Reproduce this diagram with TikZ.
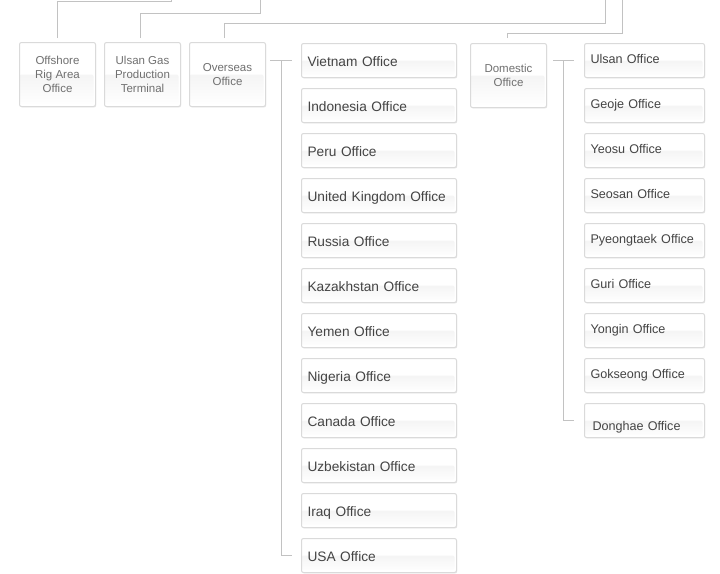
\documentclass[tikz,border=0pt]{standalone}
\usepackage{fontspec}
\setmainfont{Liberation Sans}
\usetikzlibrary{positioning,shadows}
\definecolor{linegray}{HTML}{C2C2C2}
\definecolor{boxline}{HTML}{DADADA}
\definecolor{bandgray}{HTML}{EAEAEA}
\definecolor{textgray}{HTML}{444444}
\definecolor{deptgray}{HTML}{707070}

\begin{document}
\begin{tikzpicture}[
    x=1pt, y=-1pt,
    box/.style={draw=boxline, fill=white, rounded corners=2pt, line width=1pt,
        drop shadow={shadow xshift=0.7pt, shadow yshift=-0.9pt, opacity=0.2},
        path picture={\shade[top color=bandgray, bottom color=white]
            (path picture bounding box.west) rectangle
            ([xshift=-2pt,yshift=3pt]path picture bounding box.south east);}},
    dept/.style={box, anchor=north west, minimum width=76pt, minimum height=64pt,
        align=center, inner sep=0pt, text=deptgray,
        font=\fontsize{11.5}{13.7}\selectfont},
    abroad/.style={box, anchor=north west, minimum width=155pt, minimum height=34pt,
        text width=143pt, inner xsep=6pt, align=left, text=textgray,
        text height=14pt, text depth=2pt, font=\fontsize{13.7}{15}\selectfont},
    home/.style={box, anchor=north west, minimum width=120pt, minimum height=34pt,
        text width=108pt, inner xsep=6pt, align=left, text=textgray,
        text height=8pt, text depth=3pt, font=\fontsize{12.6}{14}\selectfont},
    link/.style={draw=linegray, line width=1pt}]

\useasboundingbox (0,0) rectangle (720,573);

% departments
\node[dept] (offshore) at (19,42) {Offshore\\Rig Area\\Office};
\node[dept, right=8pt of offshore] (ulsangas) {Ulsan Gas\\Production\\Terminal};
\node[dept, right=8pt of ulsangas] (overseas) {Overseas\\Office};
\node[dept] (domestic) at (470,43) {Domestic\\Office};

% overseas offices
\foreach \name/\place [count=\i from 0] in {vietnam/Vietnam, indonesia/Indonesia,
    peru/Peru, uk/United Kingdom, russia/Russia, kazakhstan/Kazakhstan,
    yemen/Yemen, nigeria/Nigeria, canada/Canada, uzbekistan/Uzbekistan,
    iraq/Iraq, usa/USA}
    \node[abroad] (\name) at (301,43+45*\i) {\place\ Office};

% domestic offices
\foreach \name/\place [count=\i from 0] in {ulsan/Ulsan, geoje/Geoje,
    yeosu/Yeosu, seosan/Seosan, pyeongtaek/Pyeongtaek, guri/Guri,
    yongin/Yongin, gokseong/Gokseong}
    \node[home] (\name) at (584,43+45*\i) {\place\ Office};
\node[home, text height=21pt, text depth=2pt, inner xsep=8pt, text width=104pt]
    (donghae) at (584,403) {Donghae Office};

% feeds from above
\coordinate (feedA) at (171,0);
\coordinate (feedB) at (260,0);
\coordinate (feedC) at (605,0);
\coordinate (feedD) at (622,0);
\draw[link] ([yshift=4pt]offshore.north) -- ++(0,-37) -| (feedA);
\draw[link] ([xshift=-2pt,yshift=4pt]ulsangas.north) -- ++(0,-25) -| (feedB);
\draw[link] ([xshift=-3pt,yshift=4pt]overseas.north) -- ++(0,-15) -| (feedC);
\draw[link] ([xshift=-1pt,yshift=5pt]domestic.north) -- ++(0,-5) -| (feedD);

% overseas branch
\draw[link] ([xshift=4pt]overseas.east |- vietnam.west) -- ([xshift=-9pt]vietnam.west);
\draw[link] ([xshift=-20pt]vietnam.west) |- ([xshift=-9pt]usa.west);

% domestic branch
\draw[link] ([xshift=6pt]domestic.east |- ulsan.west) -- ([xshift=-10pt]ulsan.west);
\draw[link] ([xshift=-21pt]ulsan.west) |- ([xshift=-10pt]donghae.west);
\end{tikzpicture}
\end{document}
